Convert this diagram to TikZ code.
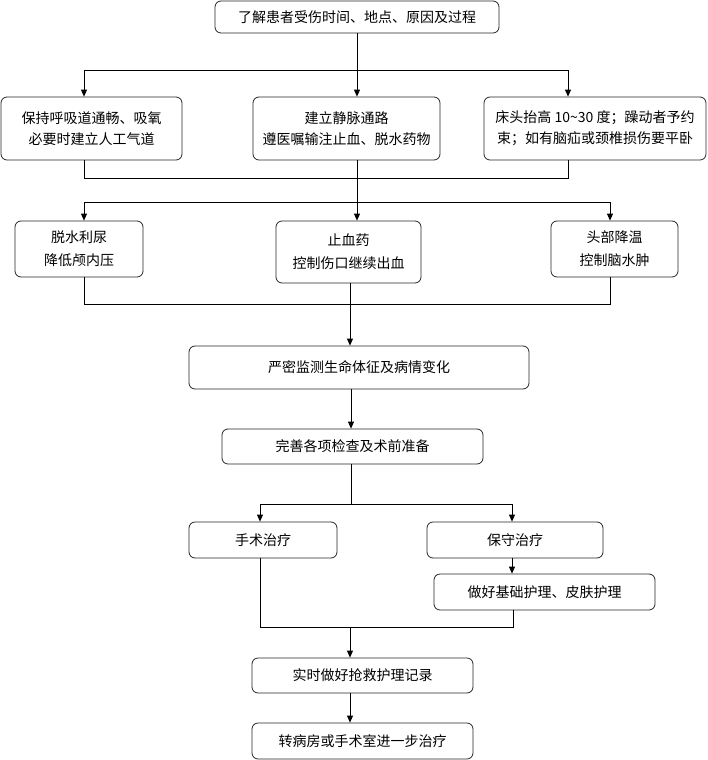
\documentclass[tikz,border=0pt]{standalone}
\usepackage{fontspec}
\usepackage{tikz}
\usetikzlibrary{positioning,arrows.meta}
\newfontfamily\cjk{Noto Sans CJK SC}

\begin{document}
\begin{tikzpicture}[
  x=1pt, y=-1pt,
  box/.style={draw=black!85, rounded corners=6pt, align=center, line width=0.8pt,
    font=\cjk\fontsize{14pt}{21pt}\selectfont, inner sep=2pt},
  arr/.style={-{Triangle[length=7pt,width=6pt]}, line width=0.8pt},
  link/.style={line width=0.8pt}
]
\useasboundingbox (0,0) rectangle (707,760);
% boxes
\node[box, minimum width=284pt, minimum height=32pt] (top) at (357,17) {了解患者受伤时间、地点、原因及过程};
\node[box, minimum width=181pt, minimum height=63pt] (airway) at (91.5,128.5) {保持呼吸道通畅、吸氧\\必要时建立人工气道};
\node[box, minimum width=187pt, minimum height=63pt] (vein) at (346.5,128.5) {建立静脉通路\\遵医嘱输注止血、脱水药物};
\node[box, minimum width=222pt, minimum height=63pt] (bed) at (595,128.5) {床头抬高 10\textasciitilde 30 度；躁动者予约\\束；如有脑疝或颈椎损伤要平卧};
\node[box, minimum width=128pt, minimum height=56pt, font=\cjk\fontsize{14pt}{23pt}\selectfont] (dehyd) at (79,249) {脱水利尿\\降低颅内压};
\node[box, minimum width=145pt, minimum height=62pt, font=\cjk\fontsize{14pt}{23pt}\selectfont] (hemo) at (348.5,252) {止血药\\控制伤口继续出血};
\node[box, minimum width=127pt, minimum height=56pt, font=\cjk\fontsize{14pt}{23pt}\selectfont] (cool) at (614.5,249) {头部降温\\控制脑水肿};
\node[box, minimum width=340pt, minimum height=43pt] (monitor) at (359,367.5) {严密监测生命体征及病情变化};
\node[box, minimum width=261pt, minimum height=35pt] (prep) at (352.5,446.5) {完善各项检查及术前准备};
\node[box, minimum width=148pt, minimum height=36pt] (surg) at (263,540) {手术治疗};
\node[box, minimum width=176pt, minimum height=36pt] (cons) at (515,540) {保守治疗};
\node[box, minimum width=221pt, minimum height=36pt] (care) at (544.5,592) {做好基础护理、皮肤护理};
\node[box, minimum width=221pt, minimum height=35pt] (record) at (362.5,675.5) {实时做好抢救护理记录};
\node[box, minimum width=221pt, minimum height=36pt] (transfer) at (362.5,741) {转病房或手术室进一步治疗};

% split and merge points
\coordinate (s1) at (357,70);  \coordinate (s1l) at (84,70);  \coordinate (s1r) at (568,70);
\coordinate (m1) at (357,178); \coordinate (m1l) at (84,178); \coordinate (m1r) at (568,178);
\coordinate (s2) at (357,202); \coordinate (s2l) at (84,202); \coordinate (s2r) at (610,202);
\coordinate (m2) at (350,304); \coordinate (m2l) at (84,304); \coordinate (m2r) at (610,304);
\coordinate (s3) at (351,504); \coordinate (s3l) at (260,504); \coordinate (s3r) at (512,504);
\coordinate (m3) at (350,627); \coordinate (m3l) at (260,627); \coordinate (m3r) at (513,627);

% connectors
\draw[link] (top.south -| s1) -- (s1);
\draw[link] (s1l) -- (s1r);
\draw[arr] (s1l) -- (s1l |- airway.north);
\draw[arr] (s1) -- (s1 |- vein.north);
\draw[arr] (s1r) -- (s1r |- bed.north);
\draw[link] (airway.south -| m1l) -- (m1l) -- (m1r) -- (bed.south -| m1r);
\draw[link] (vein.south -| m1) -- (s2);
\draw[link] (s2l) -- (s2r);
\draw[arr] (s2l) -- (s2l |- dehyd.north);
\draw[arr] (s2) -- (s2 |- hemo.north);
\draw[arr] (s2r) -- (s2r |- cool.north);
\draw[link] (dehyd.south -| m2l) -- (m2l) -- (m2r) -- (cool.south -| m2r);
\draw[link] (hemo.south -| m2) -- (m2);
\draw[arr] (m2) -- (m2 |- monitor.north);
\draw[arr] (monitor.south -| s3) -- (s3 |- prep.north);
\draw[link] (prep.south -| s3) -- (s3);
\draw[link] (s3l) -- (s3r);
\draw[arr] (s3l) -- (s3l |- surg.north);
\draw[arr] (s3r) -- (s3r |- cons.north);
\draw[arr] (cons.south -| s3r) -- (s3r |- care.north);
\draw[link] (surg.south -| m3l) -- (m3l) -- (m3r) -- (care.south -| m3r);
\draw[arr] (m3) -- (m3 |- record.north);
\draw[arr] (record.south -| m3) -- (m3 |- transfer.north);
\end{tikzpicture}
\end{document}
